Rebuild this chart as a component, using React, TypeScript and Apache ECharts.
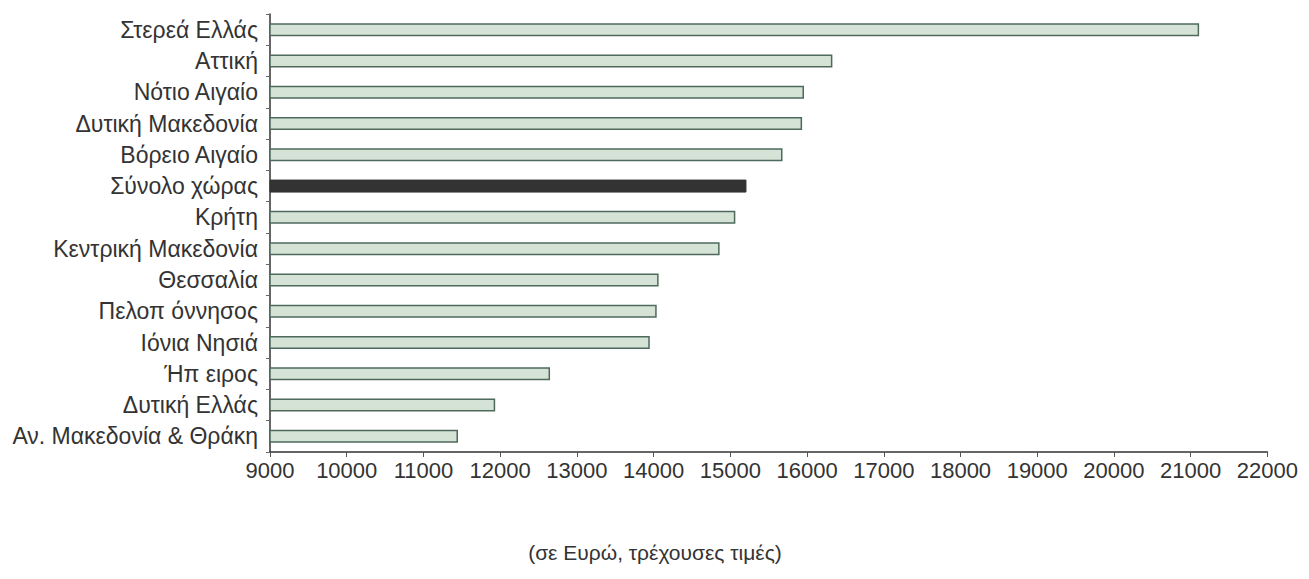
import React, { useEffect, useRef } from "react";
import * as echarts from "echarts";

const categories = [
  "Στερεά Ελλάς",
  "Αττική",
  "Νότιο Αιγαίο",
  "Δυτική Μακεδονία",
  "Βόρειο Αιγαίο",
  "Σύνολο χώρας",
  "Κρήτη",
  "Κεντρική Μακεδονία",
  "Θεσσαλία",
  "Πελοπ όννησος",
  "Ιόνια Νησιά",
  "Ήπ ειρος",
  "Δυτική Ελλάς",
  "Αν. Μακεδονία & Θράκη",
];

const values = [
  21110, 16330, 15960, 15935, 15680, 15210, 15065, 14860, 14065, 14040, 13950,
  12650, 11935, 11450,
];

const highlightCategory = "Σύνολο χώρας";
const axisTitle = "(σε Ευρώ, τρέχουσες τιμές)";

export default function App() {
  const ref = useRef<HTMLDivElement>(null);
  useEffect(() => {
    if (!ref.current) return;
    const chart = echarts.init(ref.current, null, { renderer: "svg" });
    const font = "'Liberation Sans', Arial, sans-serif";
    chart.setOption({
      animation: false,
      backgroundColor: "#ffffff",
      grid: { left: 262, right: 31, top: 6, bottom: 119, containLabel: false },
      title: {
        text: axisTitle,
        left: 642,
        top: 529,
        textAlign: "center",
        textStyle: { fontFamily: font, fontSize: 21, fontWeight: "normal", color: "#333" },
      },
      xAxis: {
        type: "value",
        min: 9000,
        max: 22000,
        interval: 1000,
        splitLine: { show: false },
        axisLine: { show: true, lineStyle: { color: "#333", width: 1.5 } },
        axisTick: { show: true, length: 5, lineStyle: { color: "#555" } },
        axisLabel: {
          fontFamily: font,
          fontSize: 22,
          color: "#333",
          margin: 7,
          formatter: (v: number) => String(v),
        },
      },
      yAxis: {
        type: "category",
        data: categories,
        inverse: true,
        axisLine: { show: true, lineStyle: { color: "#333", width: 1.5 } },
        axisTick: { show: true, length: 4, lineStyle: { color: "#666" } },
        axisLabel: { fontFamily: font, fontSize: 23, color: "#333", margin: 12 },
      },
      series: [
        {
          type: "bar",
          barWidth: 13,
          clip: true,
          data: values.map((v, i) =>
            categories[i] === highlightCategory
              ? { value: v, itemStyle: { color: "#333333", borderColor: "#333333", borderWidth: 1 } }
              : v
          ),
          itemStyle: { color: "#d5e2d6", borderColor: "#4e6a5c", borderWidth: 1.5 },
        },
      ],
    });
    return () => chart.dispose();
  }, []);
  return <div ref={ref} style={{ width: 1293, height: 563 }} />;
}
